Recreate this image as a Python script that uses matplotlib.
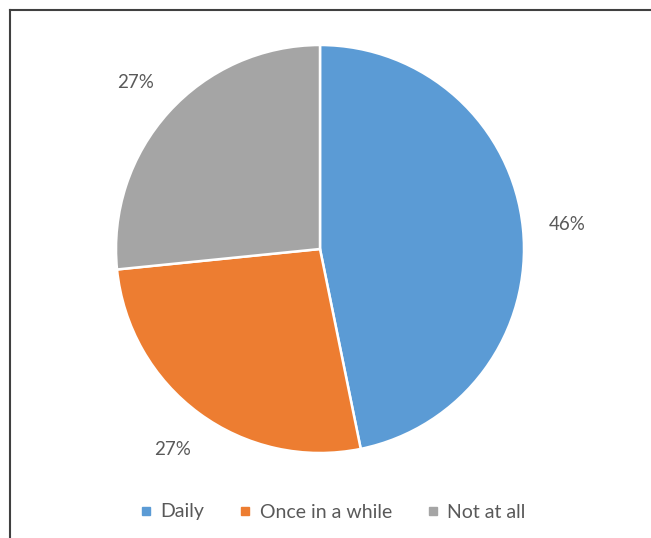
import matplotlib
matplotlib.use("Agg")
import matplotlib.pyplot as plt
from matplotlib.lines import Line2D

categories = ["Daily", "Once in a while", "Not at all"]
values = [46.8, 26.6, 26.6]
pct_labels = ["46%", "27%", "27%"]
colors = ["#5B9BD5", "#ED7D31", "#A5A5A5"]

plt.rcParams['font.family'] = ['Lato', 'DejaVu Sans']

W, H = 651, 538
fig = plt.figure(figsize=(W/100, H/100), dpi=100)
ax = fig.add_axes([0, 0, 1, 1])
ax.set_xlim(0, W)
ax.set_ylim(0, H)
ax.set_aspect('equal')
ax.axis('off')

wedges, texts, autotexts = ax.pie(
    values, colors=colors, startangle=90, counterclock=False,
    center=(320, H - 249), radius=204,
    autopct="%1.0f%%", pctdistance=1.22,
    wedgeprops=dict(edgecolor='white', linewidth=1.8),
    textprops=dict(color='#595959', fontsize=13.5),
    frame=False)
for t, s in zip(autotexts, pct_labels):
    t.set_text(s)
ax.set_xlim(0, W)
ax.set_ylim(0, H)

# border lines (frame around chart area)
ax.plot([9.5, W], [H - 9.5, H - 9.5], color='#404040', lw=1.5, clip_on=False)
ax.plot([9.5, 9.5], [0, H - 9.5], color='#404040', lw=1.5, clip_on=False)

handles = [Line2D([0], [0], marker='s', linestyle='none', markersize=6,
                  markerfacecolor=c, markeredgecolor=c) for c in colors]
leg = fig.legend(handles, categories, loc='center', bbox_to_anchor=(332/W, 1 - 512/H),
                 ncol=3, frameon=False, fontsize=14, handlelength=0.8,
                 handletextpad=0.35, columnspacing=1.7)
for t in leg.get_texts():
    t.set_color('#595959')

fig.savefig("out.png", dpi=100)
